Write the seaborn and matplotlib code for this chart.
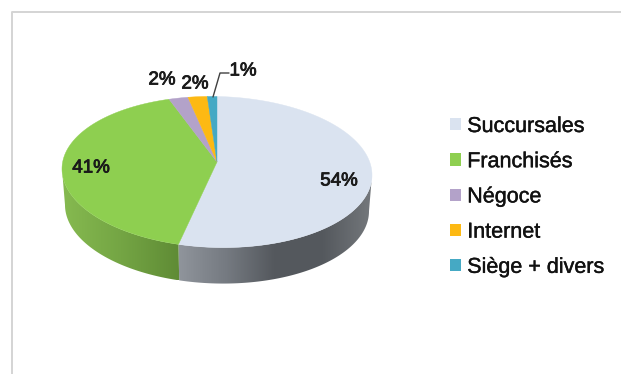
import numpy as np
import matplotlib
matplotlib.use("Agg")
import matplotlib.pyplot as plt
import matplotlib.patheffects as pe
from matplotlib.colors import LinearSegmentedColormap
from matplotlib.patches import Patch, Polygon
import seaborn as sns

categories = ["Succursales", "Franchisés", "Négoce", "Internet", "Siège + divers"]
shares = [54, 41, 2, 2, 1]
slice_colors = ["#dae3f0", "#8ecf50", "#b3a2c9", "#fdb913", "#45a9c4"]

sns.set_theme(style="white")
plt.rcParams["font.family"] = ["Liberation Sans", "DejaVu Sans"]

# Ellipse of the top face, raised apex, and height of the cylinder wall
CX, CY, RX, RY = 217.0, 172.0, 155.0, 75.5
APEX = (217.0, 162.0)
SHEAR = 0.02
DEPTH = 36.0
BASE_INSET = 3.0


def rim(theta, inset=0.0):
    """Point on the rim, theta measured clockwise from twelve o'clock."""
    x = CX + (RX - inset) * np.sin(theta)
    y = CY - RY * np.cos(theta) + SHEAR * RX * np.sin(theta)
    return x, y


fig = plt.figure(figsize=(6.21, 3.74), dpi=100, facecolor="white")
ax = fig.add_axes([0, 0, 1, 1])
ax.set_xlim(0, 621)
ax.set_ylim(374, 0)
ax.axis("off")

# Panel edge
ax.plot([11.5, 11.5, 621], [374, 11.5, 11.5], color="#d4d4d4", lw=1.4)

edges = 2 * np.pi * np.cumsum([0] + shares) / sum(shares)

# Visible wall: front half of the rim, cut where the slices meet.
# Each ramp runs left to right across its stretch of wall.
wall_ramps = {0: ["#90959c", "#757a81", "#54585d", "#55595e", "#74787c"],
              1: ["#86ba50", "#74a544", "#5f8b35"]}
for idx, ramp in wall_ramps.items():
    lo = max(edges[idx], np.pi / 2)
    hi = min(edges[idx + 1], 3 * np.pi / 2)
    ts = np.linspace(lo, hi, 200)
    xt, yt = rim(ts)
    xb, yb = rim(ts, BASE_INSET)
    outline = np.c_[np.r_[xt, xb[::-1]], np.r_[yt, (yb + DEPTH)[::-1]]]
    clip = Polygon(outline, closed=True, transform=ax.transData, fc="none", ec="none")
    ax.add_patch(clip)
    cmap = LinearSegmentedColormap.from_list("wall", ramp)
    img = ax.imshow(np.linspace(0, 1, 256)[None, :], cmap=cmap, aspect="auto",
                    extent=(outline[:, 0].min(), outline[:, 0].max(),
                            outline[:, 1].max(), outline[:, 1].min()),
                    interpolation="bilinear", zorder=1)
    img.set_clip_path(clip)
ax.set_xlim(0, 621)
ax.set_ylim(374, 0)

# Top face slices
for i, color in enumerate(slice_colors):
    ts = np.linspace(edges[i], edges[i + 1], 200)
    xs, ys = rim(ts)
    ax.fill(np.r_[APEX[0], xs], np.r_[APEX[1], ys], color=color, lw=0.3, zorder=2)

# Percentage labels
label_spots = [(339, 181), (91, 168), (162, 80), (195, 84), (243, 71)]
for share, (lx, ly) in zip(shares, label_spots):
    ax.text(lx, ly, f"{share}%", ha="center", va="center", zorder=3,
            fontsize=13.5, color="#1a1a1a",
            path_effects=[pe.withStroke(linewidth=0.6, foreground="#1a1a1a")])

# Leader line for the smallest slice
ax.plot([213, 220, 229], [97, 73, 73], color="#404040", lw=1.0, zorder=3)

handles = [Patch(facecolor=c, edgecolor="none") for c in slice_colors]
leg = ax.legend(handles, categories, loc="upper left",
                bbox_to_anchor=(450 / 621, 1 - 116 / 374), frameon=False,
                fontsize=15.5, labelspacing=0.66, handlelength=0.5,
                handleheight=0.5, handletextpad=0.3, borderpad=0, borderaxespad=0,
                labelcolor="#111111")
for txt in leg.get_texts():
    txt.set_path_effects([pe.withStroke(linewidth=0.3, foreground="#111111")])

fig.savefig("out.png", dpi=100)
